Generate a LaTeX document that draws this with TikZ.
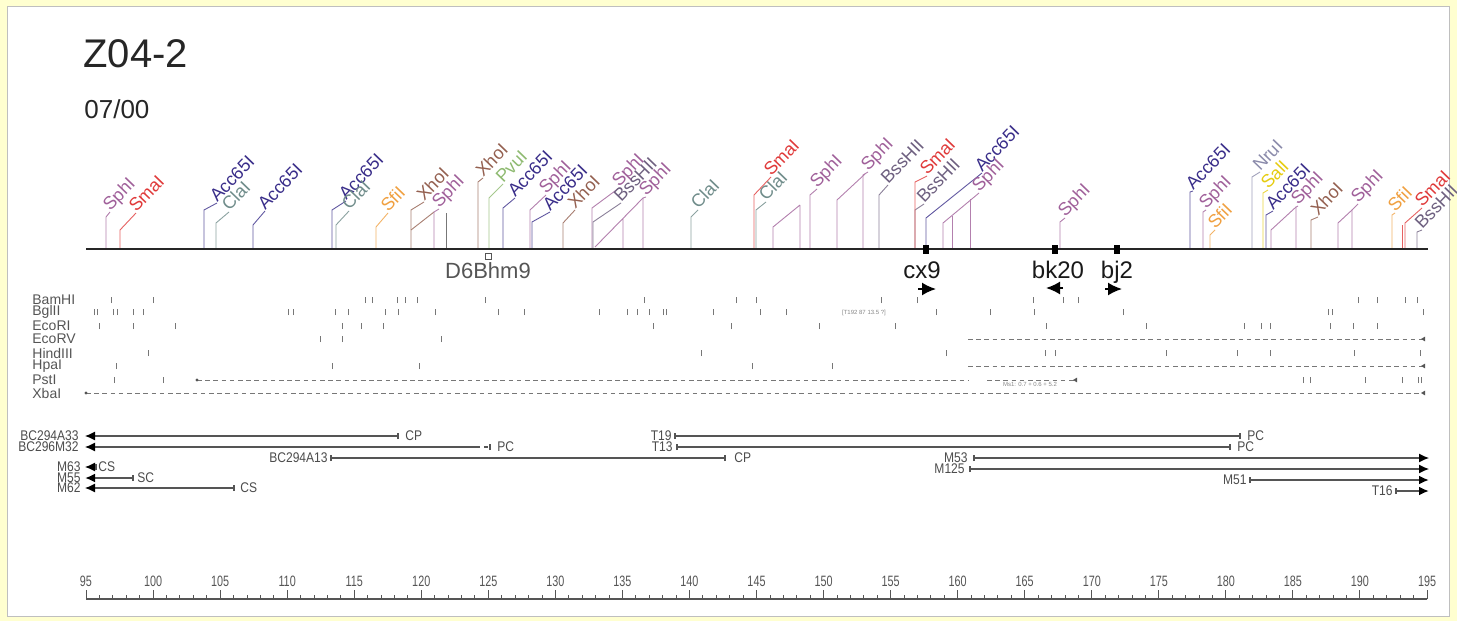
\documentclass[tikz,border=0pt]{standalone}
\usepackage{fontspec}
\setmainfont{Liberation Sans}
\newfontfamily\narrowfont[FakeStretch=0.72]{Liberation Sans}
\newfontfamily\semifont[FakeStretch=0.86]{Liberation Sans}
\usetikzlibrary{arrows.meta}
\definecolor{csph}{HTML}{A0609A}
\definecolor{csma}{HTML}{E03A3A}
\definecolor{cacc}{HTML}{3A2E8A}
\definecolor{ccla}{HTML}{6F8C8A}
\definecolor{csfi}{HTML}{F0A040}
\definecolor{cxho}{HTML}{946050}
\definecolor{cpvu}{HTML}{8EBA70}
\definecolor{cbss}{HTML}{6E6080}
\definecolor{cnru}{HTML}{8A8AAA}
\definecolor{csal}{HTML}{E6CC10}
\definecolor{cgry}{HTML}{555555}
\definecolor{cframe}{HTML}{FFFFD0}
\newcounter{lab}
\newcounter{tk}
\newcommand{\rs}[6]{%
  \stepcounter{lab}%
  \draw[site,draw=#5!80] (#1,249) -- (#1,#2) -- (#3,#4);
  \node[enz,text=#5] (lab\arabic{lab}) at (#3,#4) {#6};}
\newcommand{\extra}[2]{\draw[site,draw=#1!80] #2;}
\newcommand{\ticks}[2]{%
  \foreach \t in {#2}{\stepcounter{tk}\coordinate (t\arabic{tk}) at (\t,#1);
    \draw[rtick] ([yshift=-1.6pt]t\arabic{tk}) -- ([yshift=1.6pt]t\arabic{tk});}}
\begin{document}
\begin{tikzpicture}[x=0.5pt,y=-0.5pt,
  site/.style={line width=0.45pt},
  enz/.style={font=\fontsize{9}{10}\selectfont, rotate=46, anchor=base west, inner sep=0pt},
  rtick/.style={draw=cgry!80, line width=0.5pt},
  rowlab/.style={font=\fontsize{7}{7}\selectfont, text=cgry, anchor=west, inner sep=0pt},
  dashrow/.style={draw=cgry!80, line width=0.5pt, dash pattern=on 2.3pt off 1.8pt},
  clone/.style={draw=cgry, line width=0.6pt},
  clab/.style={font=\semifont\fontsize{7}{7}\selectfont, text=cgry!90!black, inner sep=0pt},
  larr/.style={clone, {Latex[length=5pt,width=4.5pt,black]}-},
  rarr/.style={clone, -{Latex[length=5pt,width=4.5pt,black]}},
  endt/.style={clone, line width=0.6pt},
  axlab/.style={font=\narrowfont\fontsize{7.5}{7.5}\selectfont, text=cgry, inner sep=0pt},
  mk/.style={fill=black, inner sep=0pt, minimum width=3pt, minimum height=4.5pt},
  clabel/.style={font=\fontsize{12}{12}\selectfont, anchor=base, inner sep=0pt, text=black!90},
  dir/.style={line width=0.9pt, -{Latex[length=7pt,width=6.5pt]}}
]
\useasboundingbox (0,0) rectangle (1457,621);
\fill[cframe] (0,0) rectangle (1457,621);
\fill[white] (7,6) rectangle (1449,616);
\draw[black!25, line width=0.4pt] (7,6) rectangle (1449,616);

% title
\node[font=\fontsize{20}{20}\selectfont, anchor=base west, inner sep=0pt, text=black!85] (title) at (83,68) {Z04-2};
\node[font=\fontsize{13}{13}\selectfont, anchor=base west, inner sep=0pt, text=black!85] (date) at (84,118) {07/00};

% restriction sites (lines + labels)
\rs{106}{217}{110}{212}{csph}{SphI}
\rs{120}{230}{136}{213}{csma}{SmaI}
\rs{204}{210}{217}{203}{cacc}{Acc65I}
\rs{216}{223}{229}{212}{ccla}{ClaI}
\rs{253}{225}{265}{211}{cacc}{Acc65I}
\rs{332}{210}{346}{201}{cacc}{Acc65I}
\rs{336}{225}{349}{211}{ccla}{ClaI}
\rs{376}{227}{388}{213}{csfi}{SfiI}
\rs{411}{210}{424}{202}{cxho}{XhoI}
\extra{cxho}{(411,230) -- (434,212)}
\extra{cgry}{(446,249) -- (446,213)}
\rs{434}{212}{439}{209}{csph}{SphI}
\rs{478}{182}{483}{178}{cxho}{XhoI}
\rs{489}{198}{503}{184}{cpvu}{PvuI}
\rs{503}{208}{515}{198}{cacc}{Acc65I}
\rs{532}{222}{550}{212}{cacc}{Acc65I}
\rs{530}{210}{546}{195}{csph}{SphI}
\rs{563}{223}{575}{210}{cxho}{XhoI}
\rs{592}{208}{619}{188}{csph}{SphI}
\rs{593}{222}{621}{203}{cbss}{BssHII}
\extra{csph}{(595,247) -- (643,198) (623,249) -- (623,218)}
\rs{643}{198}{646}{197}{csph}{SphI}
\rs{691}{217}{698}{210}{ccla}{ClaI}
\rs{756}{210}{766}{202}{ccla}{ClaI}
\rs{754}{195}{771}{177}{csma}{SmaI}
\extra{csph}{(773,249) -- (773,227) -- (800,205) (800,249) -- (800,205)}
\rs{810}{195}{817}{189}{csph}{SphI}
\extra{csph}{(837,249) -- (837,200) -- (865,174)}
\rs{863}{175}{868}{172}{csph}{SphI}
\rs{879}{195}{888}{185}{cbss}{BssHII}
\rs{915}{210}{924}{204}{cbss}{BssHII}
\rs{915}{182}{927}{176}{csma}{SmaI}
\rs{926}{218}{982}{173}{cacc}{Acc65I}
\extra{csph}{(952,249) -- (952,216) (970,249) -- (970,199)}
\rs{943}{223}{979}{193}{csph}{SphI}
\rs{1060}{222}{1065}{218}{csph}{SphI}
\rs{1190}{192}{1193}{191}{cacc}{Acc65I}
\rs{1203}{212}{1206}{210}{csph}{SphI}
\rs{1210}{235}{1215}{230}{csfi}{SfiI}
\rs{1252}{177}{1260}{172}{cnru}{NruI}
\rs{1263}{193}{1268}{190}{csal}{SalI}
\rs{1266}{215}{1273}{211}{cacc}{Acc65I}
\extra{csph}{(1271,249) -- (1271,230) -- (1296,207)}
\rs{1296}{207}{1298}{206}{csph}{SphI}
\rs{1311}{220}{1318}{217}{cxho}{XhoI}
\extra{csph}{(1338,249) -- (1338,223) -- (1352,210)}
\rs{1352}{210}{1358}{204}{csph}{SphI}
\rs{1392}{215}{1395}{213}{csfi}{SfiI}
\extra{csma}{(1402,249) -- (1402,225)}
\rs{1405}{223}{1422}{208}{csma}{SmaI}
\rs{1417}{232}{1422}{230}{cbss}{BssHII}

% main line
\coordinate (m0) at (86,249);
\coordinate (m1) at (1428,249);
\draw[line width=1pt, black!85] (m0) -- (m1);

% markers
\node[mk] (mcx) at (926,249) {};
\node[mk] (mbk) at (1055,249) {};
\node[mk] (mbj) at (1117,249) {};
\node[draw=cgry, fill=white, inner sep=0pt, minimum size=3pt, line width=0.4pt] (mD6) at (488,256) {};
\node[font=\fontsize{11}{11}\selectfont, anchor=base, inner sep=0pt, text=cgry] (D6) at (488,278) {D6Bhm9};
\node[clabel] (cx9) at (922,278) {cx9};
\node[clabel] (bk20) at (1058,278) {bk20};
\node[clabel] (bj2) at (1117,278) {bj2};
\coordinate (a1s) at (918,289); \coordinate (a1e) at (936,289);
\coordinate (a2s) at (1063,288); \coordinate (a2e) at (1046,288);
\coordinate (a3s) at (1105,289); \coordinate (a3e) at (1122,289);
\draw[dir] (a1s) -- (a1e);
\draw[dir] (a2s) -- (a2e);
\draw[dir] (a3s) -- (a3e);

% enzyme rows
\node[rowlab] (rBam) at (32,300) {BamHI};
\node[rowlab] (rBgl) at (32,312) {BglII};
\node[rowlab] (rEco1) at (32,326) {EcoRI};
\node[rowlab] (rEco5) at (32,339) {EcoRV};
\node[rowlab] (rHin) at (32,353) {HindIII};
\node[rowlab] (rHpa) at (32,366) {HpaI};
\node[rowlab] (rPst) at (32,380) {PstI};
\node[rowlab] (rXba) at (32,393) {XbaI};
\ticks{300}{111,153,365,372,397,405,417,485,644,736,756,881,917,1033,1063,1078,1358,1377,1405,1417}
\ticks{312}{94,97,113,117,133,143,288,293,335,348,385,398,435,498,524,599,627,637,649,663,666,713,760,786,936,990,1034,1123,1328,1332,1423}
\ticks{326}{99,133,175,342,361,383,653,731,819,895,1046,1146,1244,1261,1270,1330,1353,1377}
\ticks{339}{320,342,441}
\ticks{353}{148,701,946,1045,1055,1166,1237,1270,1354,1420}
\ticks{366}{116,332,419,752,832}
\ticks{380}{114,163,1303,1310,1365,1402,1418,1421}
\node[font=\fontsize{3}{3}\selectfont, text=cgry!70, inner sep=0pt] (brk) at (864,313) {[T192 87 13.5 ?]};
\coordinate (d1s) at (968,339); \coordinate (d1e) at (1425,339);
\coordinate (d2s) at (968,366); \coordinate (d2e) at (1425,366);
\coordinate (d3s) at (197,380); \coordinate (d3e) at (968,380);
\coordinate (d4s) at (987,380); \coordinate (d4e) at (1077,380);
\coordinate (d5s) at (86,393); \coordinate (d5e) at (1425,393);
\draw[dashrow] (d1s) -- (d1e);
\draw[dashrow] (d2s) -- (d2e);
\draw[dashrow] (d3s) -- (d3e);
\draw[dashrow] (d4s) -- (d4e);
\draw[dashrow] (d5s) -- (d5e);
\foreach \p in {d1e,d2e,d4e,d5e}{\fill[cgry] ([xshift=-2pt]\p) -- ([yshift=1.2pt]\p) -- ([yshift=-1.2pt]\p) -- cycle;}
\foreach \p in {d3s,d5s}{\fill[cgry] (\p) circle (0.8pt);}
\node[font=\fontsize{3}{3}\selectfont, text=cgry!70, inner sep=0pt] (pst) at (1030,384) {Ms1: 0.7 + 0.6 + 5.2};

% clones
\node[clab, anchor=east] (c1) at (79,436) {BC294A33};
\node[clab, anchor=east] (c2) at (79,447) {BC296M32};
\node[clab, anchor=east] (c3) at (328,458) {BC294A13};
\node[clab, anchor=east] (c4) at (81,467) {M63};
\node[clab, anchor=east] (c5) at (81,478) {M55};
\node[clab, anchor=east] (c6) at (81,488) {M62};
\coordinate (c1a) at (85,436); \coordinate (c1b) at (398,436);
\coordinate (c2a) at (85,447); \coordinate (c2b) at (476,447); \coordinate (c2c) at (490,447);
\coordinate (c3a) at (331,458); \coordinate (c3b) at (725,458);
\coordinate (c4a) at (85,467); \coordinate (c4b) at (96,467);
\coordinate (c5a) at (85,478); \coordinate (c5b) at (133,478);
\coordinate (c6a) at (85,488); \coordinate (c6b) at (234,488);
\draw[larr] (c1a) -- (c1b);
\draw[larr] (c2a) -- (c2b);
\draw[clone, dash pattern=on 2pt off 2pt] (c2b) -- (c2c);
\draw[clone] (c3a) -- (c3b);
\draw[larr] (c4a) -- (c4b);
\draw[larr, line width=1pt] (c5a) -- (c5b);
\draw[larr] (c6a) -- (c6b);
\foreach \p in {c1b,c2c,c3a,c4b,c5b,c6b}{\draw[endt] ([yshift=-1.5pt]\p) -- ([yshift=1.5pt]\p);}
\draw[clone, line width=1.2pt] ([yshift=-1.5pt]c3b) -- ([yshift=1.5pt]c3b);
\node[clab, anchor=west] (e1) at (405,436) {CP};
\node[clab, anchor=west] (e2) at (497,447) {PC};
\node[clab, anchor=west] (e3) at (734,458) {CP};
\node[clab, anchor=west] (e4) at (98,467) {CS};
\node[clab, anchor=west] (e5) at (137,478) {SC};
\node[clab, anchor=west] (e6) at (240,488) {CS};

\node[clab, anchor=east] (c7) at (672,436) {T19};
\node[clab, anchor=east] (c8) at (673,447) {T13};
\node[clab, anchor=east] (c9) at (968,458) {M53};
\node[clab, anchor=east] (c10) at (965,469) {M125};
\node[clab, anchor=east] (c11) at (1247,480) {M51};
\node[clab, anchor=east] (c12) at (1393,491) {T16};
\coordinate (c7a) at (675,436); \coordinate (c7b) at (1240,436);
\coordinate (c8a) at (677,447); \coordinate (c8b) at (1230,447);
\coordinate (c9a) at (974,458); \coordinate (c9b) at (1429,458);
\coordinate (c10a) at (970,469); \coordinate (c10b) at (1429,469);
\coordinate (c11a) at (1250,480); \coordinate (c11b) at (1429,480);
\coordinate (c12a) at (1396,491); \coordinate (c12b) at (1429,491);
\draw[clone] (c7a) -- (c7b);
\draw[clone] (c8a) -- (c8b);
\draw[rarr] (c9a) -- (c9b);
\draw[rarr] (c10a) -- (c10b);
\draw[rarr, line width=1pt] (c11a) -- (c11b);
\draw[rarr, line width=1pt] (c12a) -- (c12b);
\foreach \p in {c7a,c7b,c8a,c8b,c9a,c10a,c11a,c12a}{\draw[endt] ([yshift=-1.5pt]\p) -- ([yshift=1.5pt]\p);}
\node[clab, anchor=west] (e7) at (1247,436) {PC};
\node[clab, anchor=west] (e8) at (1237,447) {PC};

% axis
\coordinate (ax0) at (86,599);
\coordinate (ax1) at (1427,599);
\draw[cgry, line width=0.6pt] (ax0) -- (ax1);
\foreach \k in {0,...,100}{
  \pgfmathsetmacro{\xx}{86+\k*13.41}
  \pgfmathtruncatemacro{\mm}{mod(\k,5)}
  \ifnum\mm=0
    \draw[cgry, line width=0.5pt] (\xx,599) -- (\xx,590);
  \else
    \draw[cgry, line width=0.4pt] (\xx,599) -- (\xx,595);
  \fi}
\foreach \v in {95,100,...,195}{
  \pgfmathsetmacro{\xx}{86+(\v-95)*13.41}
  \node[axlab] (ax\v) at (\xx,581) {\v};}
\end{tikzpicture}
\end{document}
